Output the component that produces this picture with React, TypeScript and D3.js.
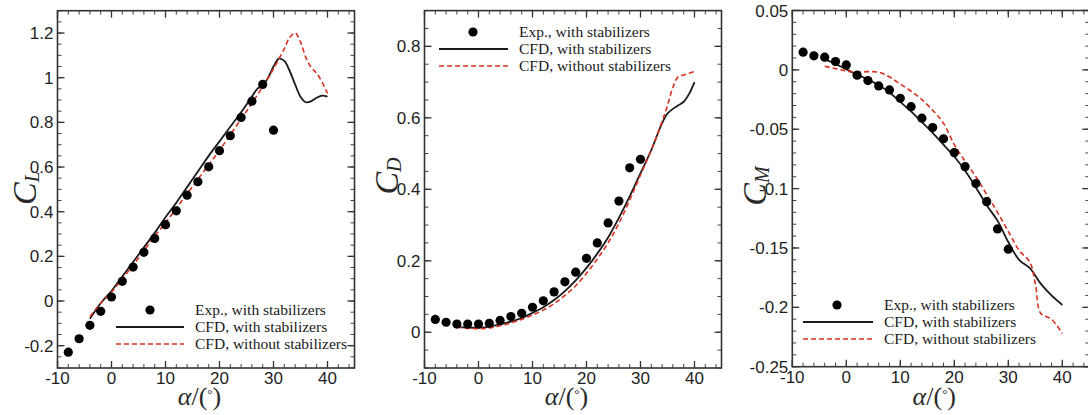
import React from 'react';
import * as d3 from 'd3';

// angle of attack for the wind tunnel points
const expAlpha = [-8, -6, -4, -2, 0, 2, 4, 6, 8, 10, 12, 14, 16, 18, 20, 22, 24, 26, 28, 30];

// lift
const clExp = [-0.229, -0.169, -0.109, -0.046, 0.018, 0.088, 0.152, 0.218, 0.28, 0.342, 0.404, 0.474, 0.534, 0.601, 0.673, 0.74, 0.822, 0.895, 0.97, 0.765];
const clWithAlpha = [-4, -2, 0, 2, 4, 6, 8, 10, 12, 14, 16, 18, 20, 22, 24, 26, 27, 28, 29, 30, 31, 32, 33, 34, 35, 36, 37, 38, 39, 40];
const clWith = [-0.08, -0.01, 0.045, 0.11, 0.175, 0.24, 0.305, 0.375, 0.44, 0.51, 0.58, 0.65, 0.715, 0.78, 0.845, 0.915, 0.95, 0.965, 1.0, 1.05, 1.085, 1.075, 1.03, 0.97, 0.915, 0.89, 0.895, 0.91, 0.92, 0.915];
const clWithoutAlpha = [-4, -2, 0, 2, 4, 6, 8, 10, 12, 14, 16, 18, 20, 22, 24, 26, 28, 30, 32, 33, 34, 35, 36, 37, 38, 39, 40];
const clWithout = [-0.07, -0.01, 0.04, 0.1, 0.16, 0.225, 0.29, 0.35, 0.415, 0.48, 0.545, 0.61, 0.675, 0.745, 0.815, 0.885, 0.96, 1.04, 1.13, 1.18, 1.2, 1.16, 1.09, 1.045, 1.02, 0.98, 0.93];

// drag
const cdExp = [0.036, 0.028, 0.023, 0.023, 0.023, 0.025, 0.033, 0.044, 0.053, 0.07, 0.088, 0.113, 0.141, 0.168, 0.207, 0.25, 0.306, 0.367, 0.46, 0.484];
const cdWithAlpha = [-4, -2, 0, 2, 4, 6, 8, 10, 12, 14, 16, 18, 20, 22, 24, 26, 28, 30, 32, 34, 35, 36, 37, 38, 39, 40];
const cdWith = [0.016, 0.013, 0.013, 0.016, 0.022, 0.03, 0.04, 0.054, 0.07, 0.09, 0.115, 0.145, 0.18, 0.22, 0.265, 0.32, 0.38, 0.445, 0.51, 0.585, 0.612, 0.625, 0.635, 0.645, 0.667, 0.7];
const cdWithoutAlpha = [-4, -2, 0, 2, 4, 6, 8, 10, 12, 14, 16, 18, 20, 22, 24, 26, 28, 30, 32, 34, 35, 36, 37, 38, 39, 40];
const cdWithout = [0.014, 0.011, 0.01, 0.012, 0.018, 0.026, 0.036, 0.048, 0.062, 0.08, 0.103, 0.13, 0.165, 0.205, 0.25, 0.305, 0.37, 0.44, 0.51, 0.59, 0.635, 0.685, 0.715, 0.72, 0.725, 0.73];

// pitching moment
const cmExp = [0.0149, 0.0118, 0.0107, 0.007, 0.0042, -0.0045, -0.009, -0.0135, -0.0169, -0.024, -0.031, -0.0407, -0.0486, -0.058, -0.0697, -0.0815, -0.0958, -0.111, -0.134, -0.151];
const cmWithAlpha = [-4, -2, 0, 2, 4, 6, 8, 10, 12, 14, 16, 18, 20, 22, 24, 26, 28, 30, 32, 34, 36, 38, 40];
const cmWith = [0.009, 0.005, 0.0005, -0.004, -0.008, -0.013, -0.019, -0.027, -0.035, -0.044, -0.053, -0.063, -0.073, -0.085, -0.099, -0.114, -0.127, -0.145, -0.16, -0.167, -0.18, -0.19, -0.198];
const cmWithoutAlpha = [-4, -2, 0, 2, 4, 6, 8, 10, 12, 14, 16, 18, 20, 22, 24, 26, 28, 30, 32, 34, 35, 36, 38, 40];
const cmWithout = [0.003, 0.001, -0.001, -0.002, -0.0015, -0.002, -0.006, -0.012, -0.018, -0.025, -0.034, -0.045, -0.063, -0.077, -0.09, -0.105, -0.12, -0.136, -0.152, -0.162, -0.18, -0.205, -0.21, -0.222];

const xTicks = [-10, 0, 10, 20, 30, 40];
const clTicks = [-0.2, 0, 0.2, 0.4, 0.6, 0.8, 1, 1.2];
const cdTicks = [0, 0.2, 0.4, 0.6, 0.8];
const cmTicks = [-0.25, -0.2, -0.15, -0.1, -0.05, 0, 0.05];

const legendLabels = ['Exp., with stabilizers', 'CFD, with stabilizers', 'CFD, without stabilizers'];

const RED = '#d8321f';
const INK = '#1a1a1a';
const TICK_FONT = '"Liberation Sans", Arial, sans-serif';
const SERIF = '"Liberation Serif", "Times New Roman", serif';

const zip = (a, b) => a.map((v, i) => [v, b[i]]);

const Panel = (props) => {
  const { left, right, top, bottom, yDomain, yTicks, yMinor, sub, title, exp, withLine, withoutLine, legend } = props;
  const x = d3.scaleLinear().domain([-10, 45]).range([left, right]);
  const y = d3.scaleLinear().domain(yDomain).range([bottom, top]);

  const xMinor = d3.range(-10, 45, 2);
  const yMin = d3.range(0, Math.round((yDomain[1] - yDomain[0]) / yMinor) + 1).map(i => yDomain[0] + i * yMinor);

  const line = d3.line().x(d => x(d[0])).y(d => y(d[1])).curve(d3.curveCatmullRom.alpha(0.5));

  const fmt = v => String(+v.toFixed(3));

  return (
    <g>
      {/* minor ticks */}
      {xMinor.map((v, i) => (
        <g key={'xm' + i} stroke="#444" strokeWidth={1}>
          <line x1={x(v)} x2={x(v)} y1={bottom} y2={bottom - 4} />
          <line x1={x(v)} x2={x(v)} y1={top} y2={top + 4} />
        </g>
      ))}
      {yMin.map((v, i) => (
        <g key={'ym' + i} stroke="#444" strokeWidth={1}>
          <line x1={left} x2={left + 4} y1={y(v)} y2={y(v)} />
          <line x1={right} x2={right - 4} y1={y(v)} y2={y(v)} />
        </g>
      ))}
      {/* major ticks */}
      {xTicks.map(v => (
        <g key={'x' + v}>
          <line x1={x(v)} x2={x(v)} y1={bottom} y2={bottom - 7} stroke="#333" strokeWidth={1.3} />
          <line x1={x(v)} x2={x(v)} y1={top} y2={top + 7} stroke="#333" strokeWidth={1.3} />
          <text x={x(v)} y={bottom + 16} textAnchor="middle" fontFamily={TICK_FONT} fontSize={17} fill="#1e1e1e">{fmt(v)}</text>
        </g>
      ))}
      {yTicks.map(v => (
        <g key={'y' + v}>
          <line x1={left} x2={left + 7} y1={y(v)} y2={y(v)} stroke="#333" strokeWidth={1.3} />
          <line x1={right} x2={right - 7} y1={y(v)} y2={y(v)} stroke="#333" strokeWidth={1.3} />
          <text x={left - 4} y={y(v)} dy="0.36em" textAnchor="end" fontFamily={TICK_FONT} fontSize={17} fill="#1e1e1e">{fmt(v)}</text>
        </g>
      ))}
      <rect x={left} y={top} width={right - left} height={bottom - top} fill="none" stroke="#333" strokeWidth={1.6} />

      {/* curves */}
      <path d={line(withLine)} fill="none" stroke={INK} strokeWidth={1.8} />
      <path d={line(withoutLine)} fill="none" stroke={RED} strokeWidth={1.6} strokeDasharray="5,3" />
      {exp.map((d, i) => (
        <circle key={'p' + i} cx={x(d[0])} cy={y(d[1])} r={4.6} fill="#000" />
      ))}

      {/* legend */}
      <g fontFamily={SERIF} fontSize={15.5} fill={INK}>
        <circle cx={legend.dotX} cy={legend.y} r={4.6} fill="#000" />
        <line x1={legend.lineX1} x2={legend.lineX2} y1={legend.y + legend.gap} y2={legend.y + legend.gap} stroke={INK} strokeWidth={1.8} />
        <line x1={legend.lineX1} x2={legend.lineX2} y1={legend.y + 2 * legend.gap} y2={legend.y + 2 * legend.gap} stroke={RED} strokeWidth={1.6} strokeDasharray="5,3" />
        {legendLabels.map((t, i) => (
          <text key={t} x={legend.textX} y={legend.y + i * legend.gap} dy="0.33em">{t}</text>
        ))}
      </g>

      {/* axis titles */}
      <text x={x(16.3)} y={405} textAnchor="middle" fontFamily={SERIF} fontSize={26} fill="#2a2a2a">
        <tspan fontStyle="italic">α</tspan>
        <tspan>/(</tspan>
        <tspan fontSize={13} dy={-7}>°</tspan>
        <tspan dy={7}>)</tspan>
      </text>
      <text transform={`translate(${title.x},${title.y}) rotate(-90)`} textAnchor="middle" fontFamily={SERIF} fontStyle="italic" fill="#2a2a2a">
        <tspan fontSize={34}>C</tspan>
        <tspan fontSize={20} dy={3}>{sub}</tspan>
      </text>
    </g>
  );
};

const App = () => {
  return (
    <svg width={1088} height={415} style={{ position: 'absolute', left: 0, top: 0, background: '#fff' }}>
      <Panel
        left={57.5} right={354.5} top={10.7} bottom={368}
        yDomain={[-0.3, 1.3]} yTicks={clTicks} yMinor={0.05} sub="L"
        title={{ x: 36, y: 188 }}
        exp={zip(expAlpha, clExp)}
        withLine={zip(clWithAlpha, clWith)}
        withoutLine={zip(clWithoutAlpha, clWithout)}
        legend={{ dotX: 150, lineX1: 116, lineX2: 184, textX: 195, y: 310, gap: 17 }}
      />
      <Panel
        left={424.5} right={721.5} top={10.6} bottom={368}
        yDomain={[-0.1, 0.9]} yTicks={cdTicks} yMinor={0.05} sub="D"
        title={{ x: 398, y: 176 }}
        exp={zip(expAlpha, cdExp)}
        withLine={zip(cdWithAlpha, cdWith)}
        withoutLine={zip(cdWithoutAlpha, cdWithout)}
        legend={{ dotX: 473, lineX1: 439, lineX2: 508, textX: 519, y: 32, gap: 17 }}
      />
      <Panel
        left={792.3} right={1089.3} top={10.5} bottom={366.7}
        yDomain={[-0.25, 0.05]} yTicks={cmTicks} yMinor={0.01} sub="M"
        title={{ x: 766, y: 186 }}
        exp={zip(expAlpha, cmExp)}
        withLine={zip(cmWithAlpha, cmWith)}
        withoutLine={zip(cmWithoutAlpha, cmWithout)}
        legend={{ dotX: 837, lineX1: 803, lineX2: 873, textX: 884, y: 305, gap: 17 }}
      />
    </svg>
  );
};

export default App;
